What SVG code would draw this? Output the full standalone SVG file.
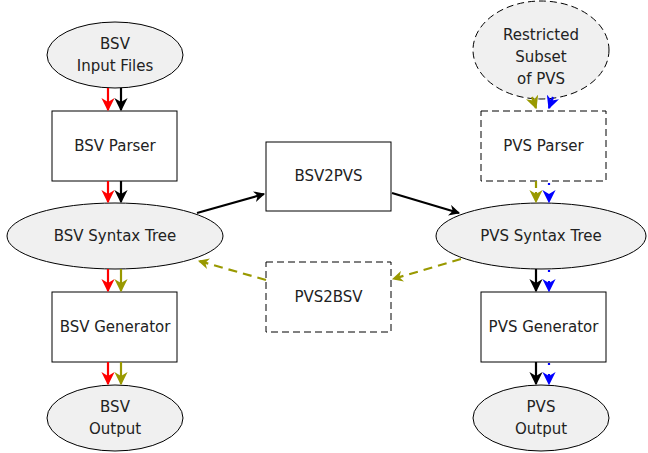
<svg xmlns="http://www.w3.org/2000/svg" width="648" height="453" viewBox="0 0 648 453">
<style>
.n{fill:#f0f0f0;stroke:#000;stroke-width:1}
.r{fill:#fff;stroke:#000;stroke-width:1}
.d{stroke-dasharray:7 4;stroke:#000}
text{font-family:"DejaVu Sans",sans-serif;font-size:15px;fill:#222;text-anchor:middle}
.e{fill:none;stroke-width:2.2}
.k{stroke:#000}.rd{stroke:#f00}.o{stroke:#999900}.b{stroke:#00f}
</style>
<defs>
<marker id="mk" viewBox="0 0 10 10" refX="9" refY="5" markerWidth="6" markerHeight="6" orient="auto" markerUnits="strokeWidth"><path d="M0,0 L10,5 L0,10 L3,5 Z" fill="#000"/></marker>
<marker id="mr" viewBox="0 0 10 10" refX="9" refY="5" markerWidth="6" markerHeight="6" orient="auto" markerUnits="strokeWidth"><path d="M0,0 L10,5 L0,10 L3,5 Z" fill="#f00"/></marker>
<marker id="mo" viewBox="0 0 10 10" refX="9" refY="5" markerWidth="6" markerHeight="6" orient="auto" markerUnits="strokeWidth"><path d="M0,0 L10,5 L0,10 L3,5 Z" fill="#999900"/></marker>
<marker id="mb" viewBox="0 0 10 10" refX="9" refY="5" markerWidth="6" markerHeight="6" orient="auto" markerUnits="strokeWidth"><path d="M0,0 L10,5 L0,10 L3,5 Z" fill="#00f"/></marker>
<marker id="mk3" viewBox="0 0 10 10" refX="9" refY="5" markerWidth="5" markerHeight="5" orient="auto" markerUnits="strokeWidth"><path d="M0,0 L10,5 L0,10 L3,5 Z" fill="#000"/></marker>
<marker id="mo3" viewBox="0 0 10 10" refX="9" refY="5" markerWidth="5" markerHeight="5" orient="auto" markerUnits="strokeWidth"><path d="M0,0 L10,5 L0,10 L3,5 Z" fill="#999900"/></marker>
</defs>
<g id="bsvin"><ellipse class="n" cx="115" cy="55" rx="68" ry="33"/><text x="115" y="49">BSV</text><text x="115" y="71">Input Files</text></g>
<g id="bsvparser"><rect class="r" x="52" y="111" width="125" height="70"/><text x="115" y="151">BSV Parser</text></g>
<g id="bsvtree"><ellipse class="n" cx="115" cy="236" rx="108" ry="33"/><text x="115" y="241">BSV Syntax Tree</text></g>
<g id="bsvgen"><rect class="r" x="52" y="292" width="125" height="70"/><text x="115" y="332">BSV Generator</text></g>
<g id="bsvout"><ellipse class="n" cx="115" cy="418" rx="68" ry="33"/><text x="115" y="412">BSV</text><text x="115" y="434">Output</text></g>
<g id="bsv2pvs"><rect class="r" x="266" y="142" width="125" height="69"/><text x="328.5" y="181">BSV2PVS</text></g>
<g id="pvs2bsv"><rect class="r d" x="266" y="262" width="125" height="70"/><text x="328.5" y="302">PVS2BSV</text></g>
<g id="restricted"><ellipse class="n d" cx="541" cy="50" rx="68" ry="49"/><text x="541" y="40">Restricted</text><text x="541" y="62">Subset</text><text x="541" y="84">of PVS</text></g>
<g id="pvsparser"><rect class="r d" x="481" y="111" width="125" height="70"/><text x="543.5" y="151">PVS Parser</text></g>
<g id="pvstree"><ellipse class="n" cx="541" cy="236" rx="105" ry="33"/><text x="541" y="241">PVS Syntax Tree</text></g>
<g id="pvsgen"><rect class="r" x="481" y="292" width="125" height="70"/><text x="543.5" y="332">PVS Generator</text></g>
<g id="pvsout"><ellipse class="n" cx="541" cy="418" rx="68" ry="33"/><text x="541" y="412">PVS</text><text x="541" y="434">Output</text></g>
<g id="edges">
<line class="e rd" x1="108" y1="88" x2="108" y2="110" marker-end="url(#mr)"/>
<line class="e k" x1="121" y1="88" x2="121" y2="110" marker-end="url(#mk)"/>
<line class="e rd" x1="108" y1="181" x2="108" y2="202" marker-end="url(#mr)"/>
<line class="e k" x1="121" y1="181" x2="121" y2="202" marker-end="url(#mk)"/>
<line class="e rd" x1="108" y1="269" x2="108" y2="291" marker-end="url(#mr)"/>
<line class="e o" x1="121" y1="269" x2="121" y2="291" marker-end="url(#mo)"/>
<line class="e rd" x1="108" y1="362" x2="108" y2="384" marker-end="url(#mr)"/>
<line class="e o" x1="121" y1="362" x2="121" y2="384" marker-end="url(#mo)"/>
<line class="e k" x1="197" y1="213" x2="264" y2="194" stroke-width="3" marker-end="url(#mk3)"/>
<line class="e k" x1="392" y1="193" x2="459" y2="213" stroke-width="3" marker-end="url(#mk3)"/>
<line class="e o" x1="461" y1="259" x2="393" y2="279" stroke-width="3" stroke-dasharray="9 6" marker-end="url(#mo3)"/>
<line class="e o" x1="266" y1="280" x2="199" y2="261" stroke-width="3" stroke-dasharray="9 6" marker-end="url(#mo3)"/>
<line class="e o" x1="532" y1="97" x2="536" y2="108" marker-end="url(#mo)"/>
<line class="e b" x1="553" y1="97" x2="549" y2="108" marker-end="url(#mb)"/>
<line class="e o" x1="536" y1="181" x2="536" y2="202" stroke-dasharray="7 4" marker-end="url(#mo)"/>
<line class="e b" x1="549" y1="183" x2="549" y2="202" stroke-dasharray="2 9" marker-end="url(#mb)"/>
<line class="e k" x1="536" y1="269" x2="536" y2="291" marker-end="url(#mk)"/>
<line class="e b" x1="549" y1="270" x2="549" y2="291" stroke-dasharray="2 9" marker-end="url(#mb)"/>
<line class="e k" x1="536" y1="362" x2="536" y2="384" marker-end="url(#mk)"/>
<line class="e b" x1="549" y1="363" x2="549" y2="384" stroke-dasharray="2 9" marker-end="url(#mb)"/>
</g>
</svg>
